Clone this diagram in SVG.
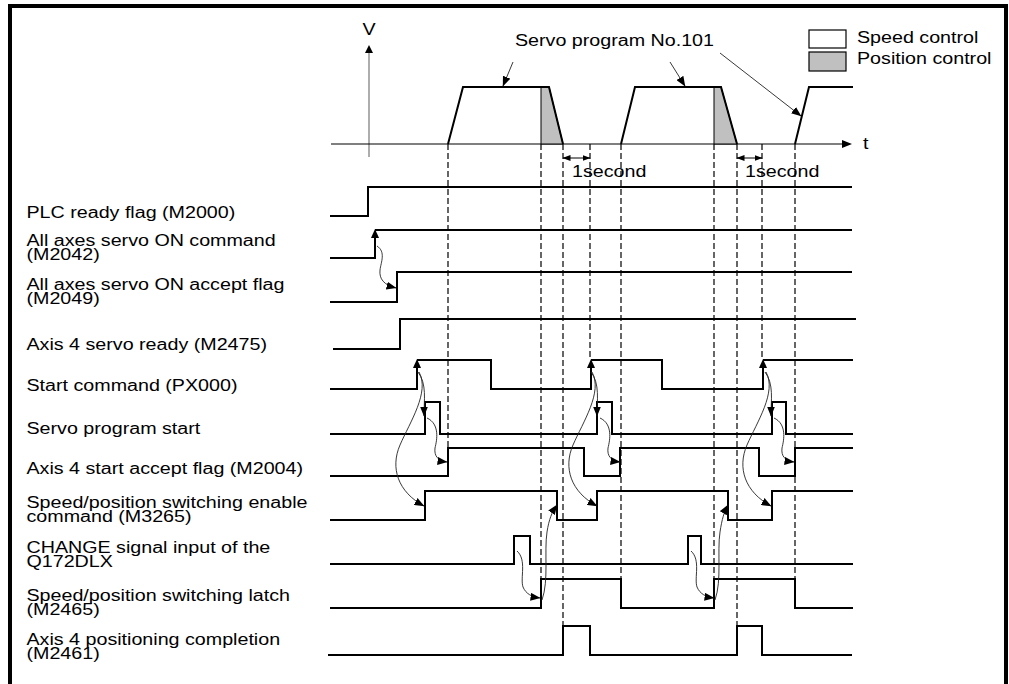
<svg xmlns="http://www.w3.org/2000/svg" width="1009" height="684" viewBox="0 0 1009 684">
<style>
text{font-family:"Liberation Sans",Arial,sans-serif;font-size:16px;fill:#000}
.sig{fill:none;stroke:#000;stroke-width:2;stroke-linejoin:miter}
.dash{stroke:#000;stroke-width:1.2;stroke-dasharray:6,3;fill:none}
.cur{fill:none;stroke:#222;stroke-width:0.9}
.ptr{fill:none;stroke:#222;stroke-width:0.9}
.trap{fill:none;stroke:#000;stroke-width:2;stroke-linejoin:miter}
.pos{fill:#c0c0c0;stroke:#000;stroke-width:1}
</style>
<defs>
<marker id="ah" viewBox="0 0 10 8" refX="9.5" refY="4" markerWidth="10" markerHeight="8" markerUnits="userSpaceOnUse" orient="auto"><path d="M0,0 L10,4 L0,8 z" fill="#000"/></marker>
<marker id="sh" viewBox="0 0 8 6" refX="7.5" refY="3" markerWidth="8" markerHeight="6" markerUnits="userSpaceOnUse" orient="auto-start-reverse"><path d="M0,0 L8,3 L0,6 z" fill="#000"/></marker>
</defs>
<rect width="1009" height="684" fill="#fff"/>
<path d="M10,684 V6 H1006 V684" fill="none" stroke="#000" stroke-width="4"/>

<g id="velocity-graph">
<line x1="369" y1="53" x2="369" y2="157" stroke="#777" stroke-width="1.2"/>
<polygon points="369,45 365,53 373,53" fill="#000"/>
<line x1="331" y1="144" x2="843" y2="144" stroke="#000" stroke-width="1.2"/>
<polygon points="852,144 842,140 842,148" fill="#000"/>
<text transform="translate(369,35) scale(1.23,1)" text-anchor="middle">V</text>
<text transform="translate(863,149) scale(1.23,1)">t</text>
<polygon class="pos" points="541,87 549,87 563,144 541,144"/>
<polygon class="pos" points="714,87 721,87 737,144 714,144"/>
<path class="trap" d="M448,144 L463,87 L549,87 L563,144"/>
<path class="trap" d="M621,144 L635,87 L721,87 L737,144"/>
<path class="trap" d="M795,144 L809,87 L853,87"/>
<text transform="translate(515,46) scale(1.23,1)">Servo program No.101</text>
<line class="ptr" x1="513" y1="62" x2="503" y2="86" marker-end="url(#ah)"/>
<line class="ptr" x1="670" y1="62" x2="685" y2="86" marker-end="url(#ah)"/>
<line class="ptr" x1="720" y1="53" x2="801" y2="116" marker-end="url(#ah)"/>
<line x1="563" y1="158" x2="590" y2="158" stroke="#000" stroke-width="1" marker-start="url(#sh)" marker-end="url(#sh)"/>
<line x1="737" y1="158" x2="762" y2="158" stroke="#000" stroke-width="1" marker-start="url(#sh)" marker-end="url(#sh)"/>
<text transform="translate(572,177) scale(1.23,1)">1second</text>
<text transform="translate(745,177) scale(1.23,1)">1second</text>
</g>

<g id="legend">
<rect x="809" y="30" width="37" height="18" fill="#fff" stroke="#000" stroke-width="1.2"/>
<rect x="809" y="52" width="37" height="19" fill="#c0c0c0" stroke="#000" stroke-width="1.2"/>
<text transform="translate(857,43) scale(1.23,1)">Speed control</text>
<text transform="translate(857,64) scale(1.23,1)">Position control</text>
</g>

<g id="guides">
<line class="dash" x1="448" y1="144" x2="448" y2="448"/>
<line class="dash" x1="541" y1="144" x2="541" y2="579"/>
<line class="dash" x1="563" y1="144" x2="563" y2="626"/>
<line class="dash" x1="590" y1="144" x2="590" y2="360"/>
<line class="dash" x1="621" y1="144" x2="621" y2="579"/>
<line class="dash" x1="714" y1="144" x2="714" y2="579"/>
<line class="dash" x1="737" y1="144" x2="737" y2="626"/>
<line class="dash" x1="762" y1="144" x2="762" y2="360"/>
<line class="dash" x1="795" y1="144" x2="795" y2="579"/>
</g>

<g id="labels" transform="translate(26.5,0) scale(1.23,1)">
<text y="218">PLC ready flag (M2000)</text>
<text y="246">All axes servo ON command</text>
<text y="260">(M2042)</text>
<text y="290">All axes servo ON accept flag</text>
<text y="304">(M2049)</text>
<text y="350">Axis 4 servo ready (M2475)</text>
<text y="391">Start command (PX000)</text>
<text y="434">Servo program start</text>
<text y="474">Axis 4 start accept flag (M2004)</text>
<text y="508">Speed/position switching enable</text>
<text y="522">command (M3265)</text>
<text y="553">CHANGE signal input of the</text>
<text y="567">Q172DLX</text>
<text y="601">Speed/position switching latch</text>
<text y="615">(M2465)</text>
<text y="645">Axis 4 positioning completion</text>
<text y="659">(M2461)</text>
</g>

<g id="signals">
<path id="s-m2000" class="sig" d="M330,216 H368 V187 H852"/>
<path id="s-m2042" class="sig" d="M330,258 H375 V236 M375,230 H852"/>
<path id="s-m2049" class="sig" d="M330,302 H397 V272 H852"/>
<path id="s-m2475" class="sig" d="M333,349 H400 V319 H856"/>
<path id="s-px000" class="sig" d="M330,389 H417 V366 M417,360 H491 V389 H591 V366 M591,360 H662 V389 H763 V366 M763,360 H853"/>
<path id="s-start" class="sig" d="M330,434 H425 V402 H440 V434 H597 V402 H612 V434 H772 V402 H786 V434 H853"/>
<path id="s-m2004" class="sig" d="M330,476 H448 V448 H584 V476 H620 V448 H759 V476 H795 V448 H853"/>
<path id="s-m3265" class="sig" d="M330,520 H425 V491 H557 V520 H597 V491 H728 V520 H772 V491 H853"/>
<path id="s-change" class="sig" d="M330,564 H514 V536 H530 V564 H688 V536 H701 V564 H853"/>
<path id="s-m2465" class="sig" d="M330,608 H541 V579 H621 V608 H714 V579 H795 V608 H853"/>
<path id="s-m2461" class="sig" d="M328,655 H563 V626 H590 V655 H737 V626 H762 V655 H852"/>
<polygon points="375,229 371,238 379,238" fill="#000"/>
<polygon points="417,359 413,368 421,368" fill="#000"/>
<polygon points="591,359 587,368 595,368" fill="#000"/>
<polygon points="763,359 759,368 767,368" fill="#000"/>
</g>

<g id="connectors">
<path class="cur" d="M377,246 C386,252 381,262 380,270 C379,279 384,285 396,288" marker-end="url(#ah)"/>
<g id="cycle1">
<path class="cur" d="M418,372 C427,384 424,400 424,416" marker-end="url(#ah)"/>
<path class="cur" d="M419,372 C430,392 410,422 400,445 C390,468 398,492 424,506" marker-end="url(#ah)"/>
<path class="cur" d="M427,418 C440,424 437,440 435,448 C434,456 438,461 447,462" marker-end="url(#ah)"/>
</g>
<g transform="translate(173,0)">
<path class="cur" d="M418,372 C427,384 424,400 424,416" marker-end="url(#ah)"/>
<path class="cur" d="M419,372 C430,392 410,422 400,445 C390,468 398,492 424,506" marker-end="url(#ah)"/>
<path class="cur" d="M427,418 C440,424 437,440 435,448 C434,456 438,461 447,462" marker-end="url(#ah)"/>
</g>
<g transform="translate(347,0)">
<path class="cur" d="M418,372 C427,384 424,400 424,416" marker-end="url(#ah)"/>
<path class="cur" d="M419,372 C430,392 410,422 400,445 C390,468 398,492 424,506" marker-end="url(#ah)"/>
<path class="cur" d="M427,418 C440,424 437,440 435,448 C434,456 438,461 447,462" marker-end="url(#ah)"/>
</g>
<path class="cur" d="M517,551 C527,560 520,578 523,587 C526,594 532,597 540,598" marker-end="url(#ah)"/>
<path class="cur" d="M542,600 C549,580 544,552 547,532 C549,519 552,512 557,505" marker-end="url(#ah)"/>
<path class="cur" d="M691,551 C701,560 694,578 697,587 C700,594 706,597 714,598" marker-end="url(#ah)"/>
<path class="cur" d="M715,600 C722,580 717,552 720,532 C722,519 724,512 728,505" marker-end="url(#ah)"/>
</g>
</svg>
